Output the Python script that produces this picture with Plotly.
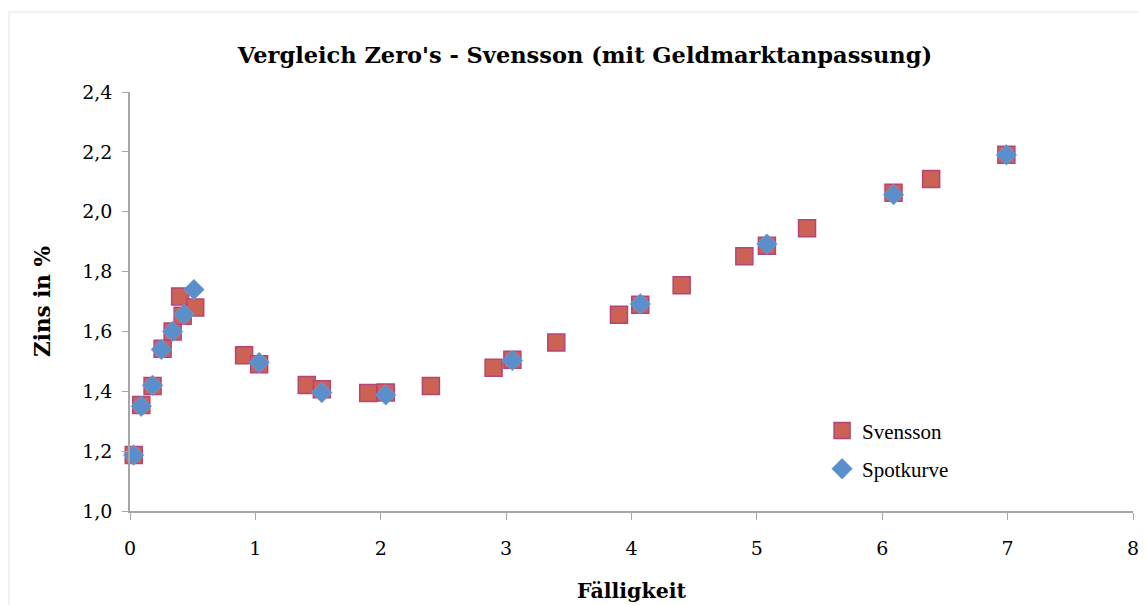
import plotly.graph_objects as go

# Svensson (squares)
sv_x = [0.03, 0.09, 0.18, 0.26, 0.34, 0.40, 0.42, 0.52, 0.91, 1.03, 1.41, 1.53,
        1.90, 2.04, 2.40, 2.90, 3.05, 3.40, 3.90, 4.07, 4.40, 4.90, 5.08, 5.40,
        6.09, 6.39, 6.99]
sv_y = [1.187, 1.354, 1.418, 1.542, 1.600, 1.717, 1.652, 1.680, 1.520, 1.490, 1.421, 1.407,
        1.394, 1.396, 1.418, 1.479, 1.505, 1.563, 1.656, 1.689, 1.754, 1.851, 1.886, 1.945,
        2.063, 2.109, 2.190]

# Spotkurve (diamonds)
sp_x = [0.03, 0.09, 0.18, 0.25, 0.34, 0.43, 0.51, 1.03, 1.53, 2.04, 3.05, 4.07, 5.08, 6.09, 6.99]
sp_y = [1.187, 1.350, 1.420, 1.540, 1.600, 1.657, 1.740, 1.496, 1.396, 1.388, 1.503, 1.692,
        1.892, 2.057, 2.190]

x_ticks = [0, 1, 2, 3, 4, 5, 6, 7, 8]
y_ticks = [1.0, 1.2, 1.4, 1.6, 1.8, 2.0, 2.2, 2.4]

SERIF = "DejaVu Serif"
LEG = "Liberation Serif"

fig = go.Figure()
fig.add_trace(go.Scatter(
    x=sv_x, y=sv_y, mode="markers", name="Svensson", cliponaxis=False, legend="legend",
    marker=dict(symbol="square", size=17, color="#CB6254",
                line=dict(color="#B4457A", width=1.5)),
))
fig.add_trace(go.Scatter(
    x=sp_x, y=sp_y, mode="markers", name="Spotkurve", cliponaxis=False, legend="legend2",
    marker=dict(symbol="diamond", size=16, color="#5B8FCB",
                line=dict(color="#7FA6D6", width=0.5)),
))

leg_common = dict(xanchor="left", yanchor="middle", bgcolor="rgba(0,0,0,0)",
                  font=dict(family=LEG, size=21, color="black"))

fig.update_layout(
    width=1138, height=597,
    paper_bgcolor="white", plot_bgcolor="white",
    separators=",.",
    margin=dict(l=122, r=13, t=84, b=94),
    font=dict(family=SERIF, size=19, color="black"),
    title=dict(text="<b>Vergleich Zero's - Svensson (mit Geldmarktanpassung)</b>",
               x=0.507, xanchor="center", y=0.921, yanchor="middle",
               font=dict(family=SERIF, size=22.5, color="black")),
    showlegend=True,
    legend=dict(x=0.690, y=0.191, **leg_common),
    legend2=dict(x=0.690, y=0.100, **leg_common),
    xaxis=dict(range=[0, 8], tickvals=x_ticks, showgrid=False, zeroline=False,
               showline=True, linecolor="#A6A6A6", linewidth=1.5,
               ticks="outside", ticklen=7, tickcolor="#A6A6A6",
               ticklabelstandoff=12, automargin=False,
               tickfont=dict(family=SERIF, size=19),
               title=dict(text="<b>Fälligkeit</b>", font=dict(family=SERIF, size=20.5), standoff=26)),
    yaxis=dict(range=[1.0, 2.4], tickvals=y_ticks, tickformat=".1f", showgrid=False,
               zeroline=False, showline=True, linecolor="#A6A6A6", linewidth=1.5,
               ticks="outside", ticklen=6, tickcolor="#A6A6A6",
               ticklabelstandoff=6, automargin=False,
               tickfont=dict(family=SERIF, size=19),
               title=dict(text="<b>Zins in %</b>", font=dict(family=SERIF, size=21.5), standoff=26)),
    shapes=[dict(type="rect", xref="paper", yref="paper",
                 x0=-0.1206, x1=1.02, y0=-0.25, y1=1.191,
                 line=dict(color="#EEEDE6", width=1.5), fillcolor="rgba(0,0,0,0)",
                 layer="below")],
)

fig.write_html("out.html")
